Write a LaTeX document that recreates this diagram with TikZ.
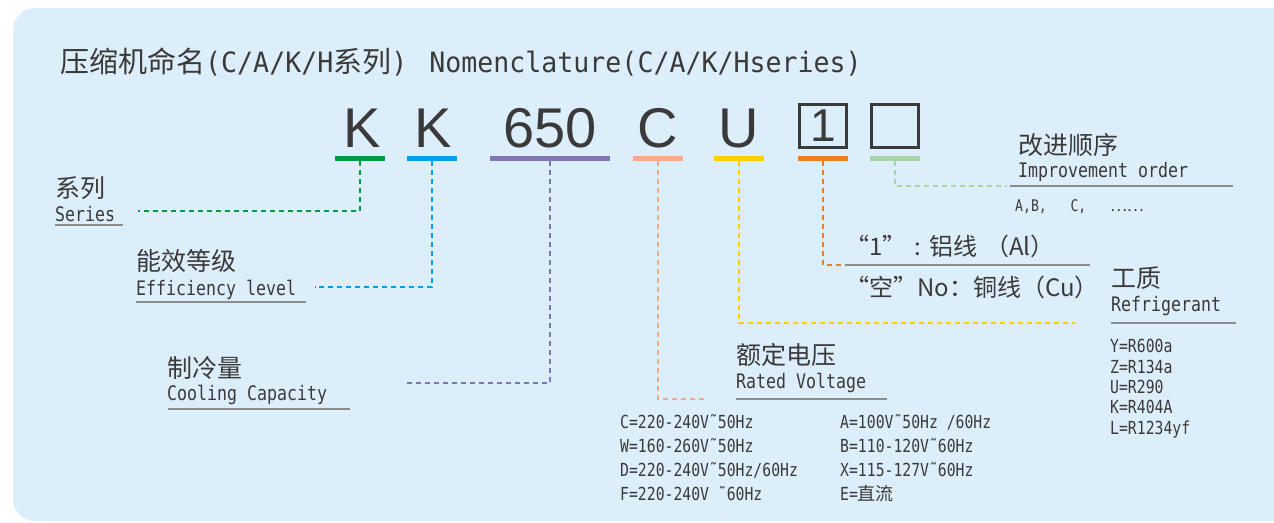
\documentclass[tikz,border=0pt]{standalone}
\usepackage{fontspec}
\setmainfont{Liberation Sans}
\newfontfamily\cjk{Noto Sans CJK SC}
\newfontfamily\lab[FakeStretch=0.83]{DejaVu Sans Mono}
\newfontfamily\lst[FakeStretch=0.82]{DejaVu Sans Mono}
\newfontfamily\ttl[FakeStretch=0.95]{DejaVu Sans Mono}
\definecolor{bg}{RGB}{221,238,251}
\definecolor{txt}{RGB}{58,58,58}
\definecolor{uline}{RGB}{140,140,140}
\definecolor{cgreen}{RGB}{0,153,68}
\definecolor{cblue}{RGB}{0,160,233}
\definecolor{cpurple}{RGB}{128,118,180}
\definecolor{csalmon}{RGB}{244,170,140}
\definecolor{cyellow}{RGB}{250,208,0}
\definecolor{corange}{RGB}{238,128,34}
\definecolor{clgreen}{RGB}{166,212,166}
\tikzset{
  bar/.style={fill=#1, inner sep=0pt, minimum width=50pt, minimum height=5pt},
  conn/.style={draw=#1, line width=1.6pt, dash pattern=on 5pt off 4pt},
  code/.style={anchor=base, inner sep=0pt, text=txt, font=\fontsize{56}{56}\selectfont},
  cn/.style={anchor=base west, inner sep=0pt, text=txt, font=\cjk\fontsize{25}{25}\selectfont},
  en/.style={anchor=base west, inner sep=0pt, text=txt, font=\lab\fontsize{20}{20}\selectfont},
  ls/.style={anchor=base west, inner sep=0pt, text=txt, align=left, font=\lst\fontsize{18}{23.7}\selectfont},
  ul/.style={draw=uline, line width=1.8pt},
  cbox/.style={draw=txt, line width=3pt, minimum width=47pt, minimum height=43pt, inner sep=0pt, text=txt, font=\fontsize{46}{46}\selectfont},
}
\begin{document}
\begin{tikzpicture}[x=1pt,y=-1pt]
\useasboundingbox (0,0) rectangle (1274,522);
\begin{scope}
\clip (0,0) rectangle (1274,522);
\fill[bg, rounded corners=22pt] (13,8) rectangle (1300,521);
\end{scope}
% title
\node[anchor=base west, inner sep=0pt, text=txt] (title) at (60,72)
  {{\cjk\fontsize{29}{29}\selectfont 压缩机命名}{\ttl\fontsize{28}{28}\selectfont(C/A/K/H}{\cjk\fontsize{29}{29}\selectfont 系列}{\ttl\fontsize{28}{28}\selectfont)\hspace{6pt} Nomenclature(C/A/K/Hseries)}};
% code characters
\node[code] (k1) at (362,147) {K};
\node[code] (k2) at (433,147) {K};
\node[code] (n650) at (550,147) {650};
\node[code] (cc) at (658,147) {C};
\node[code] (uu) at (739,147) {U};
\node[cbox] (one) at (823,125.5) {1};
\node[cbox] (blank) at (895,125.5) {};
% bars
\node[bar=cgreen] (gbar) at (360,158) {};
\node[bar=cblue] (bbar) at (432,158) {};
\node[bar=cpurple, minimum width=120pt] (pbar) at (550,158) {};
\node[bar=csalmon] (sbar) at (658,158) {};
\node[bar=cyellow] (ybar) at (739,158) {};
\node[bar=corange] (obar) at (823,158) {};
\node[bar=clgreen] (lbar) at (895,158) {};
% end coordinates
\coordinate (gend) at (138,211);
\coordinate (bend) at (315,287);
\coordinate (pend) at (406,383);
\coordinate (send) at (705,399);
\coordinate (yend) at (1075,323);
\coordinate (oend) at (842,265);
\coordinate (lend) at (1007,186);
% connectors
\draw[conn=cgreen] (gbar.south) |- (gend);
\draw[conn=cblue] (bbar.south) |- (bend);
\draw[conn=cpurple] (pbar.south) |- (pend);
\draw[conn=csalmon] (sbar.south) |- (send);
\draw[conn=cyellow] (ybar.south) |- (yend);
\draw[conn=corange] (obar.south) |- (oend);
\draw[conn=clgreen] (lbar.south) |- (lend);
% Series
\node[cn] (xl) at (55,197) {系列};
\node[en] (series) at (55,221) {Series};
\draw[ul] (55,225) -- (123,225);
% Efficiency
\node[cn] (nx) at (136,270) {能效等级};
\node[en] (eff) at (136,295) {Efficiency level};
\draw[ul] (136,302) -- (306,302);
% Cooling
\node[cn] (zl) at (167,377) {制冷量};
\node[en] (cool) at (167,400) {Cooling Capacity};
\draw[ul] (168,409) -- (350,409);
% Rated voltage
\node[cn] (ed) at (736,364) {额定电压};
\node[en] (rv) at (736,388) {Rated Voltage};
\draw[ul] (736,399) -- (887,399);
\node[ls] (vl) at (620,500) {C=220-240V˜50Hz\\W=160-260V˜50Hz\\D=220-240V˜50Hz/60Hz\\F=220-240V ˜60Hz};
\node[ls] (vr) at (840,500) {A=100V˜50Hz /60Hz\\B=110-120V˜60Hz\\X=115-127V˜60Hz\\E={\cjk 直流}};
% Refrigerant
\node[cn] (gz) at (1111,287) {工质};
\node[en] (refr) at (1111,311) {Refrigerant};
\draw[ul] (1111,323) -- (1236,323);
\node[ls, font=\lst\fontsize{18}{20.3}\selectfont] (rl) at (1110,434) {Y=R600a\\Z=R134a\\U=R290\\K=R404A\\L=R1234yf};
% wire
\node[cn, font=\cjk\fontsize{24}{24}\selectfont] (al) at (845,255) {“1”\hspace{8pt}:\hspace{8pt}铝线\hspace{8pt}（Al）};
\draw[ul] (845,265) -- (1090,265);
\node[cn, font=\cjk\fontsize{24}{24}\selectfont] (cu) at (845,296) {“空”No：铜线（Cu）};
% Improvement
\node[cn] (gj) at (1018,154) {改进顺序};
\node[en] (imp) at (1018,177) {Improvement order};
\draw[ul] (1010,186) -- (1233,186);
\node[ls, font=\lst\fontsize{16}{16}\selectfont] (abc) at (1015,211) {A,B,~~~C,~~~{\cjk ……}};
\end{tikzpicture}
\end{document}
